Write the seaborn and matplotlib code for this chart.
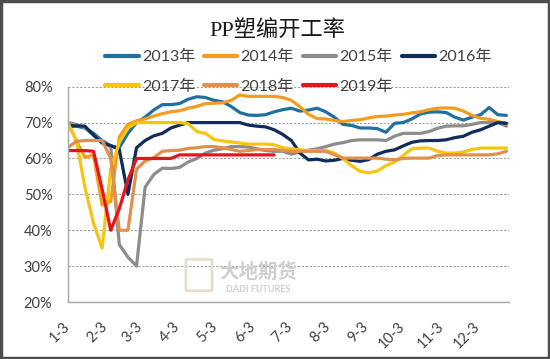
import numpy as np
import pandas as pd
import matplotlib
matplotlib.use("Agg")
import matplotlib.pyplot as plt
from matplotlib.patches import Rectangle, FancyBboxPatch
from matplotlib.ticker import FuncFormatter, MultipleLocator
import seaborn as sns

# ---------------- data ----------------
years = ["2013年", "2014年", "2015年", "2016年", "2017年", "2018年", "2019年"]
colors = ["#1f6fa3", "#f39c1f", "#8c8c8c", "#0f2c5c", "#f7c40f", "#e0904a", "#e8141b"]
tick_labels = ["1-3", "2-3", "3-3", "4-3", "5-3", "6-3", "7-3", "8-3", "9-3", "10-3", "11-3", "12-3"]
start_date = "2019-01-03"
n_weeks = 52

y2013 = [69, 69, 68.5, 67, 65, 63.5, 63, 67, 70, 71.5, 73.5, 75, 75, 75.3, 76.5, 77.2, 77, 76.2,
         75.8, 74.5, 72.8, 72.1, 72, 72.2, 73, 73.6, 74, 73.2, 73.5, 74, 73, 71.5, 69.5, 69.2,
         68.5, 68.5, 68.3, 67.3, 69.8, 70, 71, 72.4, 72.9, 73, 72.8, 71.5, 70.7, 71.5, 72.2,
         74.2, 72.2, 72]
y2014 = [70, 65, 60.3, 61, 47, 48, 66, 69.5, 70.5, 71, 71.8, 72.5, 73, 73.3, 74, 74.5, 75.3,
         75.4, 75.5, 76.2, 77.7, 77.3, 77.3, 77.3, 77.3, 77, 76.2, 74.4, 72.3, 71.1, 71, 70.6,
         70.3, 70.6, 70.8, 71.3, 71.7, 71.8, 72.1, 72.3, 72.7, 73, 73.6, 74, 74.1, 74, 73.2,
         72, 71.2, 70.9, 70.3, 69.8]
y2015 = [70, 69.5, 68.5, 66.5, 64.5, 63.3, 36, 32.5, 30, 52, 55.5, 57.3, 57.2, 57.5, 59, 60,
         61.5, 62.3, 62.7, 63.3, 63.3, 63.2, 62.7, 62.2, 62, 62, 61.2, 61.8, 62.3, 62.7, 63.3,
         64, 64.4, 65, 65.2, 65.2, 65.2, 65, 66.2, 67, 67, 67, 67.5, 68.4, 69, 69.1, 69.1,
         69.5, 70, 70, 70, 69]
y2016 = [69.1, 69.1, 69, 66.5, 64.3, 63.6, 62.5, 50, 63, 65, 66.3, 67, 68.5, 69.3, 70, 70, 70,
         70, 70, 70, 70, 69.3, 69, 68.8, 68, 66.7, 65, 61.5, 59.6, 59.8, 59.3, 59.5, 60, 59.5,
         59.2, 59.7, 61.2, 62, 62.4, 63.5, 64.5, 64.9, 65, 65, 65.2, 65.8, 66.2, 67.3, 68, 69,
         70, 69.8]
y2017 = [70, 65, 52, 42, 35, 57, 64.5, 68.5, 70, 70, 70, 70, 70, 70, 69.7, 67.5, 67, 65.3,
         64.9, 64.6, 64.3, 64, 64, 64, 63.8, 63, 62.7, 62.4, 62.2, 62.2, 62.2, 61.5, 60, 58,
         56.4, 56, 56.5, 58, 59, 60.8, 62.7, 62.9, 62.9, 62, 61.5, 61.5, 61.8, 62.5, 62.9,
         62.9, 62.9, 62.9]
y2018 = [63, 64.8, 65, 65, 65, 60, 40, 40, 57, 59.3, 60.2, 62, 62.2, 62.3, 62.8, 63, 63.3,
         63.3, 63, 62.5, 62, 62.2, 62.5, 62.5, 62.5, 62.2, 62, 62, 62, 62, 62, 61, 60.1, 60.1,
         60.1, 60.1, 60.1, 59.8, 59.6, 60, 60.1, 60.1, 60.1, 60.8, 61, 61, 61, 61, 61, 61,
         61.3, 62]
y2019 = [62.2, 62.2, 62.2, 62, 51.5, 40, 46, 54, 60, 60, 60, 60, 60, 61, 61, 61, 61, 61, 61,
         61, 61, 61, 61, 61, 61]

series = [y2013, y2014, y2015, y2016, y2017, y2018, y2019]

# ---------------- build frame ----------------
dates = pd.date_range(start_date, periods=n_weeks, freq="7D")
frames = []
for yr, vals in zip(years, series):
    frames.append(pd.DataFrame({"week": dates[:len(vals)], "rate": vals, "year": yr}))
df = pd.concat(frames, ignore_index=True)

# ---------------- figure ----------------
sns.set_style("white")
plt.rcParams["font.family"] = ["Lato", "Noto Sans CJK SC", "DejaVu Sans"]

W, H = 550, 359
fig = plt.figure(figsize=(W / 100, H / 100), dpi=100)
left, right, top, bottom = 67.7, 509, 86.7, 302
ax = fig.add_axes([left / W, 1 - bottom / H, (right - left) / W, (bottom - top) / H])

palette = dict(zip(years, colors))
sns.lineplot(data=df, x="week", y="rate", hue="year", hue_order=years, palette=palette,
             linewidth=2.3, estimator=None, sort=False, legend=False, ax=ax)

ax.set_ylim(20, 80)
ax.yaxis.set_major_locator(MultipleLocator(10))
ax.yaxis.set_major_formatter(FuncFormatter(lambda v, p: f"{v:.0f}%"))
x0 = pd.Timestamp(start_date)
ax.set_xlim(x0, x0 + pd.Timedelta(days=7 * 51.3))
ticks = [pd.Timestamp(2019, m, 3) for m in range(1, 13)]
ax.set_xticks(ticks)
ax.set_xticklabels(tick_labels)
ax.set_xlabel("")
ax.set_ylabel("")

for s in ["top", "right"]:
    ax.spines[s].set_visible(False)
for s in ["left", "bottom"]:
    ax.spines[s].set_color("#a6a6a6")
    ax.spines[s].set_linewidth(1.0)

ax.grid(axis="y", color="#a0a0a0", linestyle=(0, (2, 1.5)), linewidth=0.8)
ax.grid(axis="x", visible=False)
ax.set_axisbelow(True)

ax.tick_params(axis="y", length=0, pad=11, labelsize=10.5, labelcolor="#404040")
ax.tick_params(axis="x", direction="in", length=4, width=0.8, color="#a6a6a6",
               pad=16, labelsize=10.5, labelcolor="#404040")
for lab in ax.get_xticklabels():
    lab.set_rotation(45)
    lab.set_ha("right")
    lab.set_va("center")
    lab.set_rotation_mode("anchor")

# ---------------- title ----------------
fig.text(277 / W, 1 - 31 / H, "PP塑编开工率", ha="center", va="center", fontsize=16,
         family=["Liberation Serif", "Noto Sans CJK SC"], color="#1a1a1a")

# ---------------- legend ----------------
lines = ax.get_lines()[:7]
order = [0, 4, 1, 5, 2, 6, 3]
leg = fig.legend([lines[i] for i in order], [years[i] for i in order],
                 loc="upper left", bbox_to_anchor=(105 / W, 1 - 50 / H), ncol=4,
                 frameon=False, borderpad=0, borderaxespad=0, fontsize=11.5,
                 handlelength=2.1, handletextpad=0.2, columnspacing=0.55,
                 labelspacing=0.95)
for t in leg.get_texts():
    t.set_color("#404040")
for h in leg.get_lines():
    h.set_linewidth(3)

# ---------------- watermark ----------------
fig.patches.append(FancyBboxPatch((187 / W, 1 - 290 / H), 24 / W, 30 / H,
                                  boxstyle="round,pad=0.002", transform=fig.transFigure,
                                  fill=False, edgecolor="#e6dcc6", linewidth=2, alpha=0.9))
fig.text(258 / W, 1 - 272 / H, "大地期货", ha="center", va="center", fontsize=14,
         weight="bold", color="#cfcfcf", family=["Noto Sans CJK SC"])
fig.text(258 / W, 1 - 289 / H, "DADI FUTURES", ha="center", va="center", fontsize=6.5,
         weight="bold", color="#cfcfcf")

# ---------------- frame ----------------
fig.patches.append(Rectangle((0.002, 0.003), 0.996, 0.994, transform=fig.transFigure,
                             fill=False, edgecolor="#4d4d4d", linewidth=2.5))

fig.savefig("out.png", dpi=100)
